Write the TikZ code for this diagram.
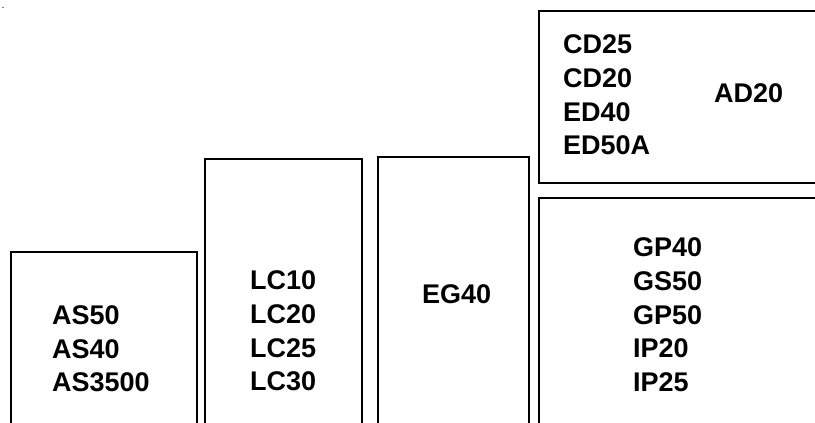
\documentclass[tikz,border=0pt]{standalone}
\usepackage{fontspec}
\setmainfont{Liberation Sans}
\begin{document}
\begin{tikzpicture}[x=1pt,y=-1pt,
  boxline/.style={draw=black,line width=2.4pt},
  lbl/.style={anchor=base west,inner sep=0pt,font=\fontsize{27}{33}\selectfont\bfseries}]
\useasboundingbox (0,0) rectangle (815,423);
% boxes (open past the lower and right edges)
\draw[boxline] (11,440) -- (11,252) -- (197,252) -- (197,440);
\draw[boxline] (205,440) -- (205,159) -- (362,159) -- (362,440);
\draw[boxline] (378,440) -- (378,157) -- (529,157) -- (529,440);
\draw[boxline] (830,183) -- (539,183) -- (539,11) -- (830,11);
\draw[boxline] (830,198) -- (539,198) -- (539,440);
\draw[gray,line width=0.8pt] (2,7) -- (4,7);
% labels
\node[lbl] (as50) at (52,324) {AS50};
\node[lbl] (as40) at (52,358) {AS40};
\node[lbl] (as3500) at (52,391) {AS3500};
\node[lbl] (lc10) at (250,289) {LC10};
\node[lbl] (lc20) at (250,323) {LC20};
\node[lbl] (lc25) at (250,357) {LC25};
\node[lbl] (lc30) at (250,390) {LC30};
\node[lbl] (eg40) at (422,303) {EG40};
\node[lbl] (cd25) at (563,53) {CD25};
\node[lbl] (cd20) at (563,87) {CD20};
\node[lbl] (ed40) at (563,121) {ED40};
\node[lbl] (ed50a) at (563,154) {ED50A};
\node[lbl] (ad20) at (714,102) {AD20};
\node[lbl] (gp40) at (633,256) {GP40};
\node[lbl] (gs50) at (633,290) {GS50};
\node[lbl] (gp50) at (633,324) {GP50};
\node[lbl] (ip20) at (633,357) {IP20};
\node[lbl] (ip25) at (633,391) {IP25};
\end{tikzpicture}
\end{document}
